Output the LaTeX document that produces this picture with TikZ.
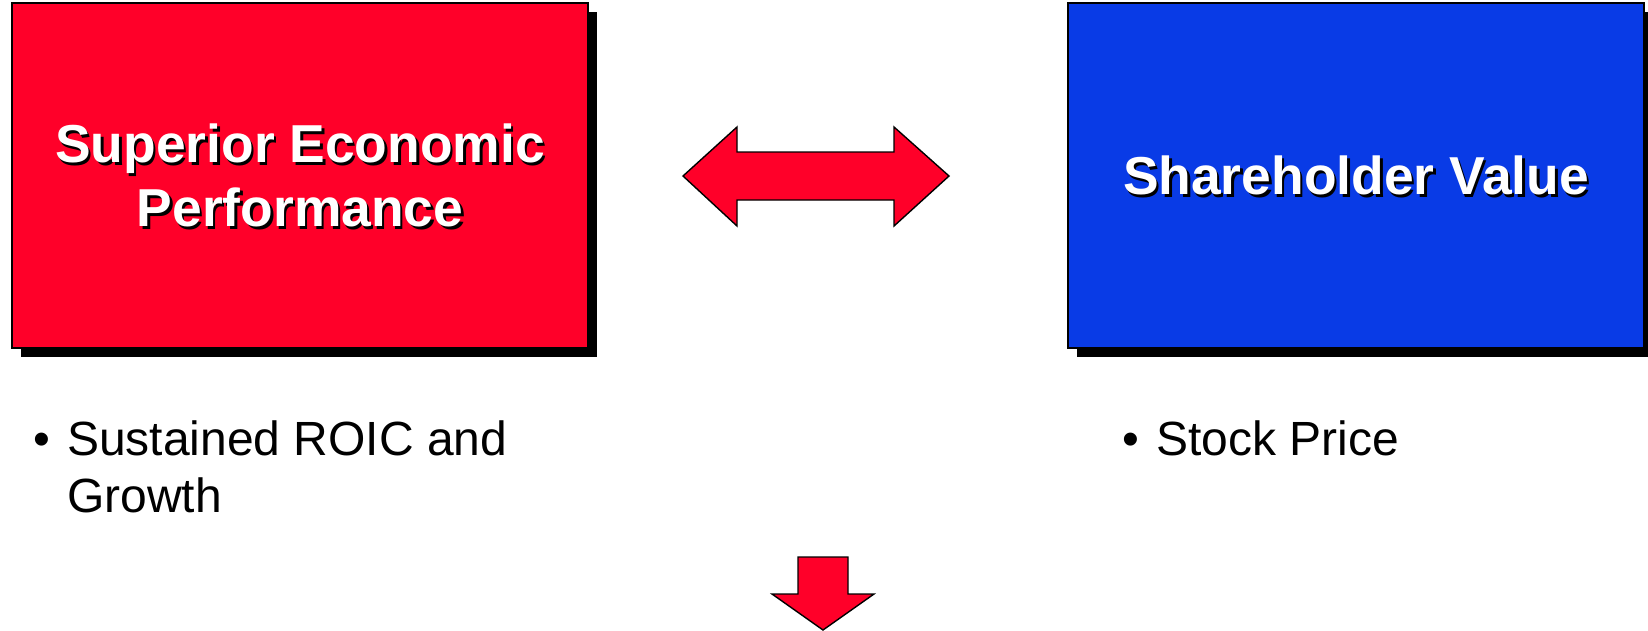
\documentclass[tikz,border=0pt]{standalone}
\usepackage{fontspec}
\setmainfont{Liberation Sans}
\usetikzlibrary{shadows}
\definecolor{boxred}{RGB}{255,0,41}
\definecolor{boxblue}{RGB}{9,59,230}

\begin{document}
\begin{tikzpicture}[x=1pt,y=-1pt,
  panel/.style={draw=black, line width=1.6pt, minimum width=576pt, minimum height=345pt,
    inner sep=0pt,
    drop shadow={shadow xshift=9pt, shadow yshift=-9pt, fill=black, opacity=1}},
  titletext/.style={font=\bfseries\fontsize{53.4}{64}\selectfont, align=center, inner sep=0pt},
  titleshade/.style={titletext, text=black},
  titlelight/.style={titletext, text=white},
  bullettext/.style={font=\fontsize{48}{57}\selectfont, align=left, inner sep=0pt, anchor=base west},
  blockarrow/.style={draw=black, line width=1.4pt, fill=boxred, line join=miter}
]
\useasboundingbox (0,0) rectangle (1648,630);

% the two panels
\node[panel, fill=boxred]  (perf)  at (300,175.5)  {};
\node[panel, fill=boxblue] (value) at (1356,175.5) {};

% panel titles, each with a dark offset copy underneath
\node[titleshade] (perf-sh)  at ([shift={(2.5,2.5)}]perf.center)  {Superior Economic\\Performance};
\node[titlelight] (perf-t)   at (perf.center)  {Superior Economic\\Performance};
\node[titleshade] (value-sh) at ([shift={(2.5,2.5)}]value.center) {Shareholder Value};
\node[titlelight] (value-t)  at (value.center) {Shareholder Value};

% two-headed block arrow between the panels
\draw[blockarrow] (683,176) -- (737,127) -- (737,152) -- (894,152) -- (894,127)
  -- (949,176) -- (894,226) -- (894,200) -- (737,200) -- (737,226) -- cycle;

% bullet lists under the panels (a multi-line node sits on its last baseline)
\node[bullettext] (perf-dot)  at (33,455)   {•};
\node[bullettext] (perf-note) at (67,512)   {Sustained ROIC and\\Growth};
\node[bullettext] (value-dot) at (1122,455) {•};
\node[bullettext] (value-note) at (1156,455) {Stock Price};

% downward block arrow
\draw[blockarrow] (798,557) -- (848,557) -- (848,594) -- (874,594) -- (823,630)
  -- (772,594) -- (798,594) -- cycle;
\end{tikzpicture}
\end{document}
